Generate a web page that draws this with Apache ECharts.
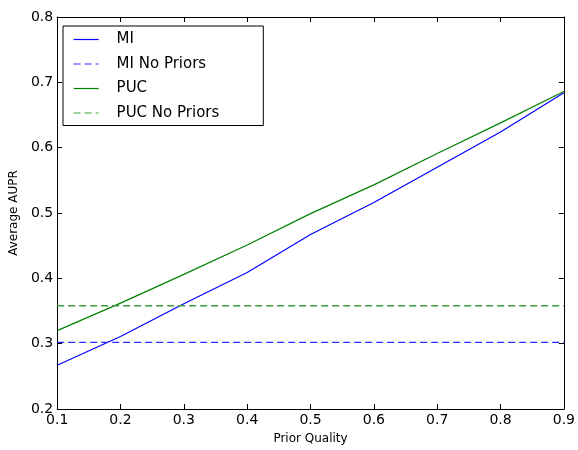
<!DOCTYPE html>
<html>
<head>
<meta charset="utf-8">
<script src="https://cdn.jsdelivr.net/npm/echarts@6/dist/echarts.min.js"></script>
<style>html,body{margin:0;padding:0;background:#fff;overflow:hidden}#c{width:578px;height:450px}</style>
</head>
<body>
<div id="c"></div>
<script>
const priorQuality = [0.1, 0.2, 0.3, 0.4, 0.5, 0.6, 0.7, 0.8, 0.9];
const miValues = [0.267, 0.311, 0.361, 0.409, 0.467, 0.516, 0.570, 0.624, 0.684];
const miNoPriors = [0.302, 0.302, 0.302, 0.302, 0.302, 0.302, 0.302, 0.302, 0.302];
const pucValues = [0.320, 0.362, 0.406, 0.451, 0.499, 0.543, 0.591, 0.638, 0.686];
const pucNoPriors = [0.358, 0.358, 0.358, 0.358, 0.358, 0.358, 0.358, 0.358, 0.358];
const seriesNames = ['MI', 'MI No Priors', 'PUC', 'PUC No Priors'];

const pairs = arr => priorQuality.map((x, i) => [x, arr[i]]);
const font = 'DejaVu Sans';

const chart = echarts.init(document.getElementById('c'), null, {renderer: 'canvas', width: 578, height: 450});
const fmt = v => v.toFixed(1);
const baseAxis = {
  type: 'value',
  axisLine: {show: true, onZero: false, lineStyle: {color: '#000', width: 1}},
  axisTick: {show: true, inside: true, length: 5, lineStyle: {color: '#000'}},
  splitLine: {show: false}
};
chart.setOption({
  animation: false,
  backgroundColor: '#fff',
  grid: {left: 54, right: 10, top: 17, bottom: 36, containLabel: false},
  legend: {
    show: true,
    orient: 'vertical',
    left: 63, top: 26,
    padding: [6, 44, 5, 10],
    itemWidth: 25, itemHeight: 14, itemGap: 9.5,
    borderColor: '#000', borderWidth: 1, backgroundColor: '#fff',
    itemStyle: {color: 'rgba(0,0,0,0)', borderWidth: 0, opacity: 0},
    lineStyle: {width: 1.2},
    textStyle: {fontFamily: font, fontSize: 15, color: '#000', padding: [0, 0, 0, 13]},
    data: seriesNames
  },
  xAxis: [
    Object.assign({}, baseAxis, {
      min: 0.1, max: 0.9, interval: 0.1, position: 'bottom',
      name: 'Prior Quality', nameLocation: 'middle', nameGap: 24,
      nameTextStyle: {fontFamily: font, fontSize: 12, color: '#000'},
      axisLabel: {fontFamily: font, fontSize: 14, color: '#000', margin: 4, formatter: fmt}
    }),
    Object.assign({}, baseAxis, {
      min: 0.1, max: 0.9, interval: 0.1, position: 'top', axisLabel: {show: false}
    })
  ],
  yAxis: [
    Object.assign({}, baseAxis, {
      min: 0.2, max: 0.8, interval: 0.1, position: 'left',
      name: 'Average AUPR', nameLocation: 'middle', nameGap: 28,
      nameTextStyle: {fontFamily: font, fontSize: 12, color: '#000'},
      axisLabel: {fontFamily: font, fontSize: 14, color: '#000', margin: 4, formatter: fmt}
    }),
    Object.assign({}, baseAxis, {
      min: 0.2, max: 0.8, interval: 0.1, position: 'right', axisLabel: {show: false}
    })
  ],
  series: [
    {name: 'MI', type: 'line', data: pairs(miValues), symbol: 'none',
     lineStyle: {color: '#0000ff', width: 1.2}, itemStyle: {color: '#0000ff'}},
    {name: 'MI No Priors', type: 'line', data: pairs(miNoPriors), symbol: 'none',
     lineStyle: {color: '#2a2aff', width: 1.4, type: [7, 4]}, itemStyle: {color: '#2a2aff'}},
    {name: 'PUC', type: 'line', data: pairs(pucValues), symbol: 'none',
     lineStyle: {color: '#008000', width: 1.2}, itemStyle: {color: '#008000'}},
    {name: 'PUC No Priors', type: 'line', data: pairs(pucNoPriors), symbol: 'none',
     lineStyle: {color: '#3c9e3c', width: 1.6, type: [7, 4]}, itemStyle: {color: '#3c9e3c'}}
  ]
});
</script>
</body>
</html>
